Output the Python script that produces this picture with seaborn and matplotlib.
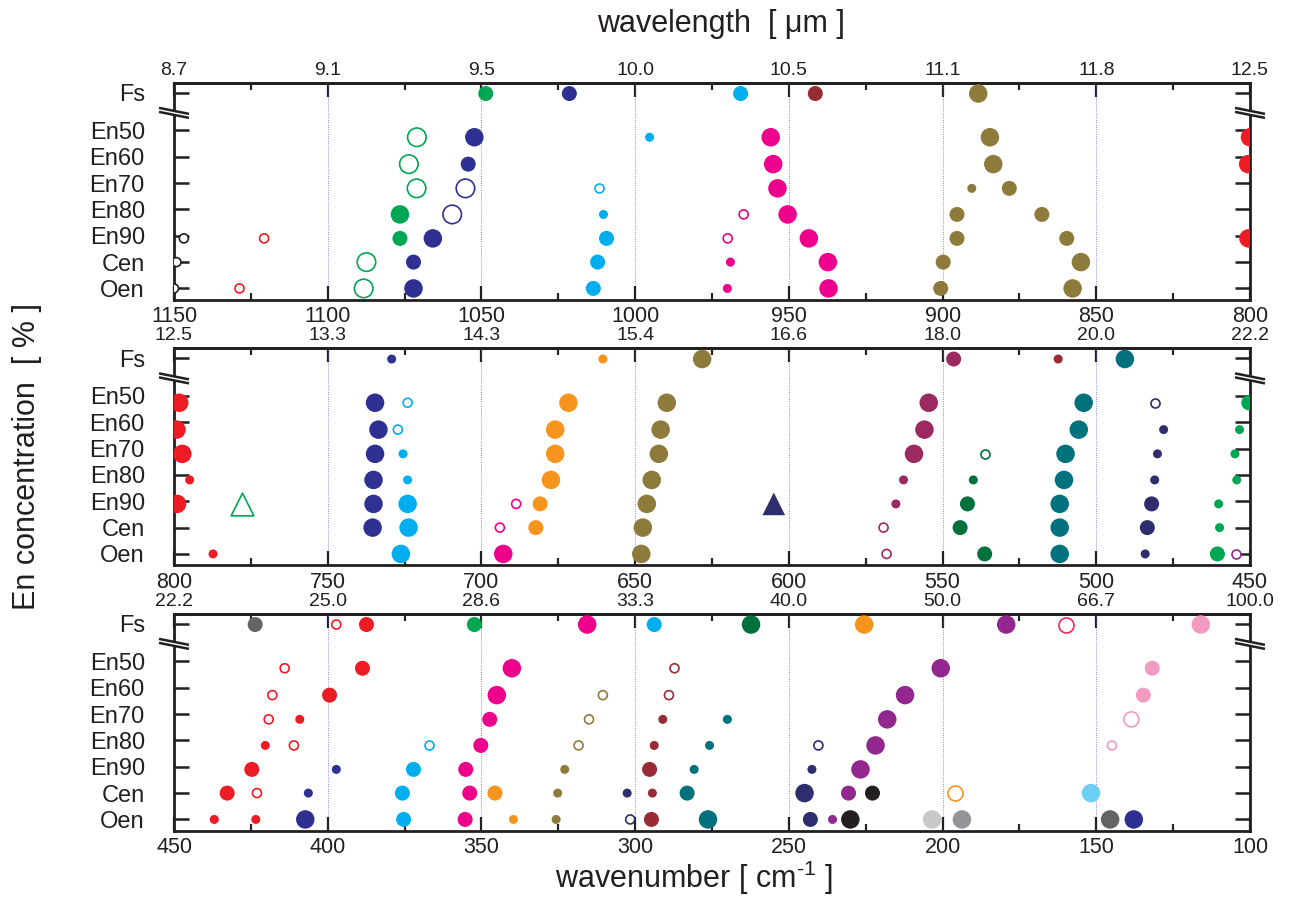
import numpy as np
import pandas as pd
import matplotlib
matplotlib.use("Agg")
import matplotlib.pyplot as plt
from matplotlib.ticker import MultipleLocator
import seaborn as sns

# Step 1: Data
rows = ["Oen", "Cen", "En90", "En80", "En70", "En60", "En50", "Fs"]

colours = {
    "green": "#00A651", "dkgreen": "#00703C", "navy": "#2E3192", "slate": "#2E2E6E",
    "lblue": "#00AEEF", "cyan": "#6DCFF6", "dkred": "#982B33", "olive": "#8E7B3B",
    "magenta": "#EC008C", "red": "#ED1C24", "orange": "#F7941D", "plum": "#9C2A61",
    "teal": "#00717D", "purple": "#92278F", "pink": "#F39AC1", "crimson": "#EE2A5A",
    "black": "#231F20", "gray": "#636466", "ltgray": "#C8C8CA", "midgray": "#939598",
}

# (row, wavenumber, colour, intensity level 1-3, style)
panel1 = [
    ("Fs", 1048.6, "green", 2, "dot"), ("Fs", 1021.4, "navy", 2, "dot"),
    ("Fs", 965.7, "lblue", 2, "dot"), ("Fs", 941.4, "dkred", 2, "dot"),
    ("Fs", 888.4, "olive", 3, "dot"),
    ("En50", 1071.0, "green", 3, "ring"), ("En50", 1052.3, "navy", 3, "dot"),
    ("En50", 995.3, "lblue", 1, "dot"), ("En50", 955.9, "magenta", 3, "dot"),
    ("En50", 884.6, "olive", 3, "dot"), ("En50", 800.0, "red", 3, "dot"),
    ("En60", 1073.6, "green", 3, "ring"), ("En60", 1054.3, "navy", 2, "dot"),
    ("En60", 955.1, "magenta", 3, "dot"), ("En60", 883.5, "olive", 3, "dot"),
    ("En60", 800.6, "red", 3, "dot"),
    ("En70", 1071.1, "green", 3, "ring"), ("En70", 1055.2, "navy", 3, "ring"),
    ("En70", 1011.9, "lblue", 1, "ring"), ("En70", 953.7, "magenta", 3, "dot"),
    ("En70", 890.5, "olive", 1, "dot"), ("En70", 878.3, "olive", 2, "dot"),
    ("En80", 1076.5, "green", 3, "dot"), ("En80", 1059.5, "navy", 3, "ring"),
    ("En80", 1010.3, "lblue", 1, "dot"), ("En80", 964.7, "magenta", 1, "ring"),
    ("En80", 950.4, "magenta", 3, "dot"), ("En80", 895.3, "olive", 2, "dot"),
    ("En80", 867.7, "olive", 2, "dot"),
    ("En90", 1146.8, "black", 1, "ring"), ("En90", 1120.7, "red", 1, "ring"),
    ("En90", 1076.5, "green", 2, "dot"), ("En90", 1065.8, "navy", 3, "dot"),
    ("En90", 1009.3, "lblue", 2, "dot"), ("En90", 969.9, "magenta", 1, "ring"),
    ("En90", 943.5, "magenta", 3, "dot"), ("En90", 895.3, "olive", 2, "dot"),
    ("En90", 859.6, "olive", 2, "dot"), ("En90", 800.5, "red", 3, "dot"),
    ("Cen", 1149.2, "black", 1, "ring"), ("Cen", 1087.4, "green", 3, "ring"),
    ("Cen", 1072.1, "navy", 2, "dot"), ("Cen", 1012.2, "lblue", 2, "dot"),
    ("Cen", 969.0, "magenta", 1, "dot"), ("Cen", 937.3, "magenta", 3, "dot"),
    ("Cen", 899.8, "olive", 2, "dot"), ("Cen", 855.0, "olive", 3, "dot"),
    ("Oen", 1150.0, "black", 1, "ring"), ("Oen", 1128.7, "red", 1, "ring"),
    ("Oen", 1088.3, "green", 3, "ring"), ("Oen", 1072.1, "navy", 3, "dot"),
    ("Oen", 1013.6, "lblue", 2, "dot"), ("Oen", 970.0, "magenta", 1, "dot"),
    ("Oen", 937.1, "magenta", 3, "dot"), ("Oen", 900.6, "olive", 2, "dot"),
    ("Oen", 857.7, "olive", 3, "dot"),
]

panel2 = [
    ("Fs", 729.2, "navy", 1, "dot"), ("Fs", 660.5, "orange", 1, "dot"),
    ("Fs", 628.2, "olive", 3, "dot"), ("Fs", 546.4, "plum", 2, "dot"),
    ("Fs", 512.4, "dkred", 1, "dot"), ("Fs", 490.7, "teal", 3, "dot"),
    ("En50", 798.3, "red", 3, "dot"), ("En50", 734.6, "navy", 3, "dot"),
    ("En50", 724.0, "lblue", 1, "ring"), ("En50", 671.7, "orange", 3, "dot"),
    ("En50", 639.7, "olive", 3, "dot"), ("En50", 554.5, "plum", 3, "dot"),
    ("En50", 504.1, "teal", 3, "dot"), ("En50", 481.0, "slate", 1, "ring"),
    ("En50", 450.4, "green", 2, "dot"),
    ("En60", 799.2, "red", 3, "dot"), ("En60", 733.5, "navy", 3, "dot"),
    ("En60", 727.2, "lblue", 1, "ring"), ("En60", 676.0, "orange", 3, "dot"),
    ("En60", 641.7, "olive", 3, "dot"), ("En60", 555.9, "plum", 3, "dot"),
    ("En60", 505.7, "teal", 3, "dot"), ("En60", 478.1, "slate", 1, "dot"),
    ("En60", 453.4, "green", 1, "dot"),
    ("En70", 797.3, "red", 3, "dot"), ("En70", 734.6, "navy", 3, "dot"),
    ("En70", 725.5, "lblue", 1, "dot"), ("En70", 676.0, "orange", 3, "dot"),
    ("En70", 642.3, "olive", 3, "dot"), ("En70", 559.3, "plum", 3, "dot"),
    ("En70", 536.1, "dkgreen", 1, "ring"), ("En70", 510.0, "teal", 3, "dot"),
    ("En70", 480.1, "slate", 1, "dot"), ("En70", 454.9, "green", 1, "dot"),
    ("En80", 794.9, "red", 1, "dot"), ("En80", 735.1, "navy", 3, "dot"),
    ("En80", 724.0, "lblue", 1, "dot"), ("En80", 677.4, "orange", 3, "dot"),
    ("En80", 644.6, "olive", 3, "dot"), ("En80", 562.7, "plum", 1, "dot"),
    ("En80", 540.0, "dkgreen", 1, "dot"), ("En80", 510.5, "teal", 3, "dot"),
    ("En80", 481.0, "slate", 1, "dot"), ("En80", 454.3, "green", 1, "dot"),
    ("En90", 799.0, "red", 3, "dot"), ("En90", 777.9, "green", 3, "otri"),
    ("En90", 735.1, "navy", 3, "dot"), ("En90", 724.0, "lblue", 3, "dot"),
    ("En90", 688.7, "magenta", 1, "ring"), ("En90", 680.9, "orange", 2, "dot"),
    ("En90", 646.2, "olive", 3, "dot"), ("En90", 604.9, "slate", 3, "tri"),
    ("En90", 565.2, "plum", 1, "dot"), ("En90", 541.9, "dkgreen", 2, "dot"),
    ("En90", 511.9, "teal", 3, "dot"), ("En90", 482.0, "slate", 2, "dot"),
    ("En90", 460.2, "green", 1, "dot"),
    ("Cen", 735.4, "navy", 3, "dot"), ("Cen", 723.7, "lblue", 3, "dot"),
    ("Cen", 694.0, "magenta", 1, "ring"), ("Cen", 682.3, "orange", 2, "dot"),
    ("Cen", 647.5, "olive", 3, "dot"), ("Cen", 569.2, "plum", 1, "ring"),
    ("Cen", 544.3, "dkgreen", 2, "dot"), ("Cen", 511.9, "teal", 3, "dot"),
    ("Cen", 483.4, "slate", 2, "dot"), ("Cen", 459.9, "green", 1, "dot"),
    ("Oen", 787.3, "red", 1, "dot"), ("Oen", 726.2, "lblue", 3, "dot"),
    ("Oen", 692.9, "magenta", 3, "dot"), ("Oen", 648.0, "olive", 3, "dot"),
    ("Oen", 568.2, "plum", 1, "ring"), ("Oen", 536.3, "dkgreen", 2, "dot"),
    ("Oen", 511.9, "teal", 3, "dot"), ("Oen", 484.1, "slate", 1, "dot"),
    ("Oen", 460.6, "green", 2, "dot"), ("Oen", 454.4, "purple", 1, "ring"),
]

panel3 = [
    ("Fs", 423.6, "gray", 2, "dot"), ("Fs", 397.2, "red", 1, "ring"),
    ("Fs", 387.4, "red", 2, "dot"), ("Fs", 352.3, "green", 2, "dot"),
    ("Fs", 315.6, "magenta", 3, "dot"), ("Fs", 293.8, "lblue", 2, "dot"),
    ("Fs", 262.3, "dkgreen", 3, "dot"), ("Fs", 225.5, "orange", 3, "dot"),
    ("Fs", 179.3, "purple", 3, "dot"), ("Fs", 160.0, "crimson", 2, "ring"),
    ("Fs", 116.0, "pink", 3, "dot"),
    ("En50", 414.0, "red", 1, "ring"), ("En50", 388.7, "red", 2, "dot"),
    ("En50", 340.1, "magenta", 3, "dot"), ("En50", 287.2, "dkred", 1, "ring"),
    ("En50", 200.6, "purple", 3, "dot"), ("En50", 131.8, "pink", 2, "dot"),
    ("En60", 418.0, "red", 1, "ring"), ("En60", 399.4, "red", 2, "dot"),
    ("En60", 345.0, "magenta", 3, "dot"), ("En60", 310.5, "olive", 1, "ring"),
    ("En60", 289.0, "dkred", 1, "ring"), ("En60", 212.2, "purple", 3, "dot"),
    ("En60", 134.7, "pink", 2, "dot"),
    ("En70", 419.2, "red", 1, "ring"), ("En70", 409.1, "red", 1, "dot"),
    ("En70", 347.3, "magenta", 2, "dot"), ("En70", 315.0, "olive", 1, "ring"),
    ("En70", 291.0, "dkred", 1, "dot"), ("En70", 270.0, "teal", 1, "dot"),
    ("En70", 218.0, "purple", 3, "dot"), ("En70", 138.6, "pink", 2, "ring"),
    ("En80", 420.3, "red", 1, "dot"), ("En80", 411.0, "red", 1, "ring"),
    ("En80", 367.1, "lblue", 1, "ring"), ("En80", 350.2, "magenta", 2, "dot"),
    ("En80", 318.4, "olive", 1, "ring"), ("En80", 293.8, "dkred", 1, "dot"),
    ("En80", 275.8, "teal", 1, "dot"), ("En80", 240.4, "slate", 1, "ring"),
    ("En80", 221.8, "purple", 3, "dot"), ("En80", 144.9, "pink", 1, "ring"),
    ("En90", 424.7, "red", 2, "dot"), ("En90", 397.2, "navy", 1, "dot"),
    ("En90", 372.1, "lblue", 2, "dot"), ("En90", 355.1, "magenta", 2, "dot"),
    ("En90", 322.9, "olive", 1, "dot"), ("En90", 295.3, "dkred", 2, "dot"),
    ("En90", 280.8, "teal", 1, "dot"), ("En90", 242.5, "slate", 1, "dot"),
    ("En90", 226.7, "purple", 3, "dot"),
    ("Cen", 432.7, "red", 2, "dot"), ("Cen", 423.0, "red", 1, "ring"),
    ("Cen", 406.3, "navy", 1, "dot"), ("Cen", 375.7, "lblue", 2, "dot"),
    ("Cen", 353.8, "magenta", 2, "dot"), ("Cen", 345.6, "orange", 2, "dot"),
    ("Cen", 325.2, "olive", 1, "dot"), ("Cen", 302.6, "slate", 1, "dot"),
    ("Cen", 294.4, "dkred", 1, "dot"), ("Cen", 283.1, "teal", 2, "dot"),
    ("Cen", 244.9, "slate", 3, "dot"), ("Cen", 230.6, "purple", 2, "dot"),
    ("Cen", 222.8, "black", 2, "dot"), ("Cen", 196.0, "orange", 2, "ring"),
    ("Cen", 151.7, "cyan", 3, "dot"),
    ("Oen", 436.9, "red", 1, "dot"), ("Oen", 423.4, "red", 1, "dot"),
    ("Oen", 407.3, "navy", 3, "dot"), ("Oen", 375.3, "lblue", 2, "dot"),
    ("Oen", 355.3, "magenta", 2, "dot"), ("Oen", 339.6, "orange", 1, "dot"),
    ("Oen", 325.7, "olive", 1, "dot"), ("Oen", 301.6, "slate", 1, "ring"),
    ("Oen", 294.7, "dkred", 2, "dot"), ("Oen", 276.3, "teal", 3, "dot"),
    ("Oen", 243.0, "slate", 2, "dot"), ("Oen", 235.8, "purple", 1, "dot"),
    ("Oen", 230.0, "black", 3, "dot"), ("Oen", 203.4, "ltgray", 3, "dot"),
    ("Oen", 193.7, "midgray", 3, "dot"), ("Oen", 145.5, "gray", 3, "dot"),
    ("Oen", 137.8, "navy", 3, "dot"),
]

ranges = [(1150, 800), (800, 450), (450, 100)]
top_labels = [
    ["8.7", "9.1", "9.5", "10.0", "10.5", "11.1", "11.8", "12.5"],
    ["12.5", "13.3", "14.3", "15.4", "16.6", "18.0", "20.0", "22.2"],
    ["22.2", "25.0", "28.6", "33.3", "40.0", "50.0", "66.7", "100.0"],
]

# Step 2: Layout helpers
sns.set_style("ticks")
plt.rcParams["font.family"] = ["Liberation Sans", "DejaVu Sans"]
plt.rcParams["mathtext.fontset"] = "custom"
plt.rcParams["mathtext.rm"] = "Liberation Sans"
plt.rcParams["mathtext.it"] = "Liberation Sans"

tick_y = [0, 1, 2, 3, 4, 5, 6, 7.43]
mark_y = dict(zip(rows, [0, 1, 1.9, 2.81, 3.8, 4.72, 5.74, 7.4]))
size_px = {1: 9, 2: 15, 3: 18.5}
size_area = {k: (v * 0.72) ** 2 for k, v in size_px.items()}


def add_break(ax, xa, yb=0.862):
    dx, sl, gap = 15 / 1076, 3 / 216, 4 / 216
    xs = [xa - dx, xa + dx]
    poly_x = [xa - dx, xa + dx, xa + dx, xa - dx]
    poly_y = [yb + gap / 2 + sl, yb + gap / 2 - sl, yb - gap / 2 - sl, yb - gap / 2 + sl]
    ax.fill(poly_x, poly_y, color="white", transform=ax.transAxes, clip_on=False, zorder=6)
    for off in (gap / 2, -gap / 2):
        ax.plot(xs, [yb + off + sl, yb + off - sl], color="#231F20", lw=1.8,
                transform=ax.transAxes, clip_on=False, zorder=7, solid_capstyle="butt")


def draw_panel(ax, records, xr, tops):
    df = pd.DataFrame(records, columns=["row", "wn", "colour", "level", "style"])
    df["y"] = df["row"].map(mark_y)
    for (style, colour), g in df.groupby(["style", "colour"]):
        marker = "^" if "tri" in style else "o"
        if style in ("dot", "tri"):
            kws = dict(facecolor=colours[colour], edgecolor="none", linewidth=0)
        else:
            kws = dict(facecolor="white", edgecolor=colours[colour], linewidth=1.2)
        lv = {k: size_area[k] * (1.5 if marker == "^" else 1.0) for k in size_area}
        sns.scatterplot(data=g, x="wn", y="y", size="level", sizes=lv, marker=marker,
                        legend=False, ax=ax, zorder=3, **kws)

    hi, lo = xr
    ticks = list(range(hi, lo - 1, -50))
    ax.set_xlim(hi, lo)
    ax.set_ylim(-0.42, 7.8)
    ax.set_xticks(ticks, labels=[str(t) for t in ticks])
    ax.xaxis.set_minor_locator(MultipleLocator(25))
    ax.set_yticks(tick_y, labels=rows)
    ax.set_xlabel("")
    ax.set_ylabel("")
    ax.grid(axis="x", which="major", color="#5b5bd0", linestyle=(0, (1, 1.8)), linewidth=0.6)
    ax.set_axisbelow(True)
    ax.tick_params(axis="x", which="major", direction="in", length=10, width=1.6,
                   labelsize=15.5, pad=5, top=False, bottom=True, colors="#231F20")
    ax.tick_params(axis="x", which="minor", direction="in", length=5, width=1.6,
                   top=False, bottom=True)
    ax.tick_params(axis="y", which="major", direction="in", length=11, width=1.8,
                   labelsize=17, pad=21, left=True, right=True, colors="#231F20")
    ax.tick_params(axis="y", which="minor", left=False, right=False)
    for sp in ax.spines.values():
        sp.set_linewidth(2)
        sp.set_color("#231F20")

    sec = ax.secondary_xaxis("top")
    sec.set_xticks(ticks, labels=tops)
    sec.xaxis.set_minor_locator(MultipleLocator(25))
    sec.tick_params(which="major", direction="in", length=10, width=1.6, labelsize=14,
                    pad=3, colors="#231F20")
    sec.tick_params(which="minor", direction="in", length=5, width=1.6)
    sec.spines["top"].set_linewidth(2)

    add_break(ax, 0.0)
    add_break(ax, 1.0)


# Step 3: Figure
fig = plt.figure(figsize=(12.92, 9.13), dpi=100)
left, width, h = 174 / 1292, 1076 / 1292, 216.5 / 913
tops_px = [83, 348.5, 614]
for panel, xr, tops, tp in zip([panel1, panel2, panel3], ranges, top_labels, tops_px):
    ax = fig.add_axes([left, 1 - (tp + 216.5) / 913, width, h])
    draw_panel(ax, panel, xr, tops)

fig.text(0.558, 1 - 24 / 913, "wavelength  [ \u03bcm ]", ha="center", va="center",
         fontsize=22, color="#231F20")
fig.text(0.537, 1 - 878 / 913, r"wavenumber [ cm$^{\text{-1}}$ ]", ha="center", va="center",
         fontsize=22, color="#231F20")
fig.text(0.021, 1 - 457 / 913, "En concentration  [ % ]", ha="center", va="center",
         rotation=90, fontsize=22, color="#231F20")

fig.savefig("out.png", dpi=100)
